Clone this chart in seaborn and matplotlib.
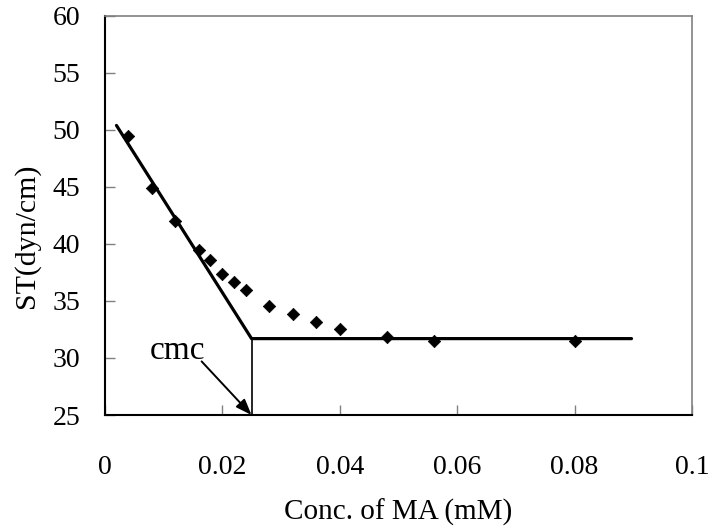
import matplotlib
matplotlib.use("Agg")
import matplotlib.pyplot as plt
import seaborn as sns
import numpy as np

# Data
conc = [0.004, 0.008, 0.012, 0.016, 0.018, 0.020, 0.022, 0.024,
        0.028, 0.032, 0.036, 0.040, 0.048, 0.056, 0.080]
st = [49.5, 44.9, 42.0, 39.5, 38.6, 37.4, 36.7, 36.0,
      34.6, 33.9, 33.2, 32.5, 31.8, 31.5, 31.5]

fit_x = [0.002, 0.025, 0.0897]
fit_y = [50.4, 31.7, 31.7]
cmc_x = [0.025, 0.025]
cmc_y = [31.7, 25.0]

xticks = [0, 0.02, 0.04, 0.06, 0.08, 0.1]
xtick_labels = ["0", "0.02", "0.04", "0.06", "0.08", "0.1"]
yticks = [25, 30, 35, 40, 45, 50, 55, 60]

sns.set_theme(style="white")
plt.rcParams["font.family"] = ["Liberation Serif", "DejaVu Serif"]

fig = plt.figure(figsize=(7.11, 5.29), dpi=100)
ax = fig.add_axes([0.1473, 0.2155, 0.9733 - 0.1473, 0.9698 - 0.2155])

sns.lineplot(x=fit_x, y=fit_y, sort=False, estimator=None, color="black",
             linewidth=2.3, ax=ax)
sns.lineplot(x=cmc_x, y=cmc_y, sort=False, estimator=None, color="black",
             linewidth=1.2, ax=ax)
sns.scatterplot(x=conc, y=st, marker="D", s=40, color="black",
                edgecolor="black", linewidth=0.5, ax=ax, zorder=5)

ax.text(0.0124, 30.6, "cmc", fontsize=24, ha="center", va="center",
        color="black")
ax.annotate("", xy=(0.025, 25.0), xytext=(0.0165, 29.7),
            arrowprops=dict(arrowstyle="-|>,head_length=0.8,head_width=0.3",
                            color="black", lw=1.4, shrinkA=0, shrinkB=0))

ax.set_xlim(0, 0.1)
ax.set_ylim(25, 60)
ax.set_xticks(xticks)
ax.set_xticklabels(xtick_labels)
ax.set_yticks(yticks)

ax.tick_params(axis="both", direction="in", length=7, width=1,
               color="#808080", labelsize=20, labelcolor="black",
               bottom=True, left=True)
ax.tick_params(axis="x", pad=29)
ax.tick_params(axis="y", pad=17.8)

for side in ["left", "bottom"]:
    ax.spines[side].set_color("black")
    ax.spines[side].set_linewidth(1.5)
for side in ["top", "right"]:
    ax.spines[side].set_color("#808080")
    ax.spines[side].set_linewidth(1.2)

ax.set_xlabel("Conc. of MA (mM)", fontsize=21, color="black")
ax.set_ylabel("ST(dyn/cm)", fontsize=21.5, color="black")
ax.xaxis.set_label_coords(0.5, -0.211)
ax.yaxis.set_label_coords(-0.11, 0.449)

fig.savefig("out.png", dpi=100, facecolor="white")
